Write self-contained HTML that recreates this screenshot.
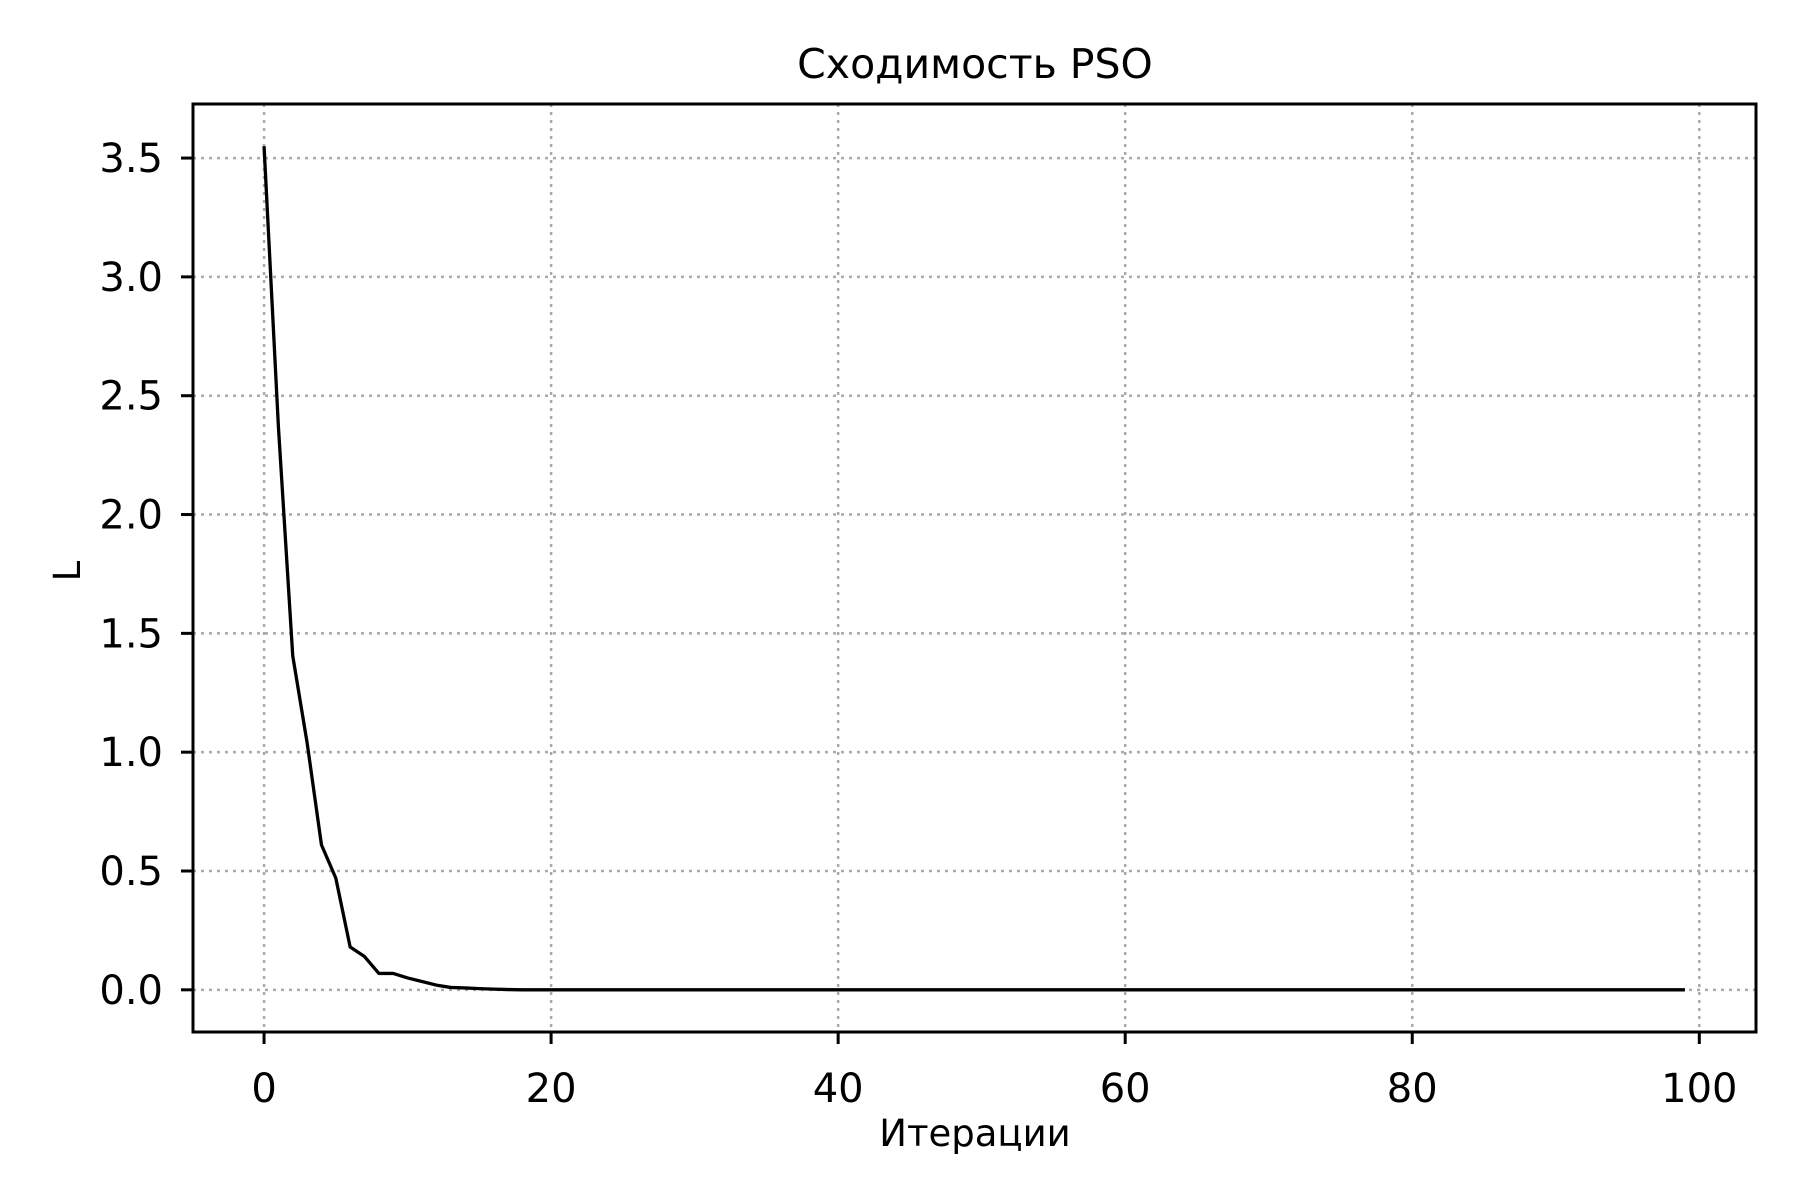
<!DOCTYPE html>
<html><head><meta charset="utf-8"><style>
body{margin:0;background:#fff}
svg{display:block;font-family:"DejaVu Sans","Liberation Sans",sans-serif}
</style></head><body>
<svg id="chart" width="1800" height="1200" viewBox="0 0 1800 1200">
<rect width="1800" height="1200" fill="#fff"/>
<g id="grid"></g>
<g id="ticks"></g>
<polyline id="line" fill="none" stroke="#000" stroke-width="3.3" stroke-linejoin="round"/>
<rect x="193" y="104" width="1563" height="928" fill="none" stroke="#000" stroke-width="3"/>
<text x="975" y="78" font-size="41" text-anchor="middle">Сходимость PSO</text>
<text x="975" y="1146" font-size="37" text-anchor="middle">Итерации</text>
<text x="0" y="0" font-size="37" text-anchor="middle" transform="translate(80,571) rotate(-90)">L</text>
</svg>
<script>
const yValuesHead = [3.55, 2.37, 1.405, 1.04, 0.61, 0.47, 0.18, 0.14, 0.069, 0.069, 0.05, 0.035, 0.02, 0.01, 0.008, 0.005, 0.003, 0.001];
const totalIterations = 100;
const xTicks = [0, 20, 40, 60, 80, 100];
const yTicks = [0, 0.5, 1.0, 1.5, 2.0, 2.5, 3.0, 3.5];
const yTickLabels = ["0.0", "0.5", "1.0", "1.5", "2.0", "2.5", "3.0", "3.5"];

const L = 193, R = 1756, T = 104, B = 1032;
const xMin = -4.95, xMax = 103.95, yMin = -0.1775, yMax = 3.7275;
const sx = v => L + (v - xMin) / (xMax - xMin) * (R - L);
const sy = v => B - (v - yMin) / (yMax - yMin) * (B - T);
const NS = "http://www.w3.org/2000/svg";
const grid = document.getElementById('grid');
const ticks = document.getElementById('ticks');
function mk(tag, attrs, parent) {
  const e = document.createElementNS(NS, tag);
  for (const k in attrs) e.setAttribute(k, attrs[k]);
  parent.appendChild(e);
  return e;
}
xTicks.forEach(t => {
  const x = sx(t);
  const g = mk('line', {x1: x, x2: x, y1: T, y2: B, stroke: '#aaaaaa', 'stroke-width': 2.5, 'stroke-dasharray': '3,5'}, grid);
  
  
  const tk = mk('line', {x1: x, x2: x, y1: B, y2: B + 12, stroke: '#000', 'stroke-width': 3}, ticks);
  
  
  const tx = mk('text', {x: x, y: 1102, 'font-size': 40, 'text-anchor': 'middle'}, ticks);
  tx.textContent = String(t);
  
  
});
yTicks.forEach((t, i) => {
  const y = sy(t);
  const g = mk('line', {x1: L, x2: R, y1: y, y2: y, stroke: '#aaaaaa', 'stroke-width': 2.5, 'stroke-dasharray': '3,5'}, grid);
  
  
  const tk = mk('line', {x1: L - 12, x2: L, y1: y, y2: y, stroke: '#000', 'stroke-width': 3}, ticks);
  
  
  const tx = mk('text', {x: 163, y: y + 14, 'font-size': 40, 'text-anchor': 'end'}, ticks);
  tx.textContent = yTickLabels[i];
  
  
});
const pts = [];
for (let i = 0; i < totalIterations; i++) {
  const v = i < yValuesHead.length ? yValuesHead[i] : 0;
  pts.push(sx(i).toFixed(2) + ',' + sy(v).toFixed(2));
}
document.getElementById('line').setAttribute('points', pts.join(' '));
</script>
</body></html>
